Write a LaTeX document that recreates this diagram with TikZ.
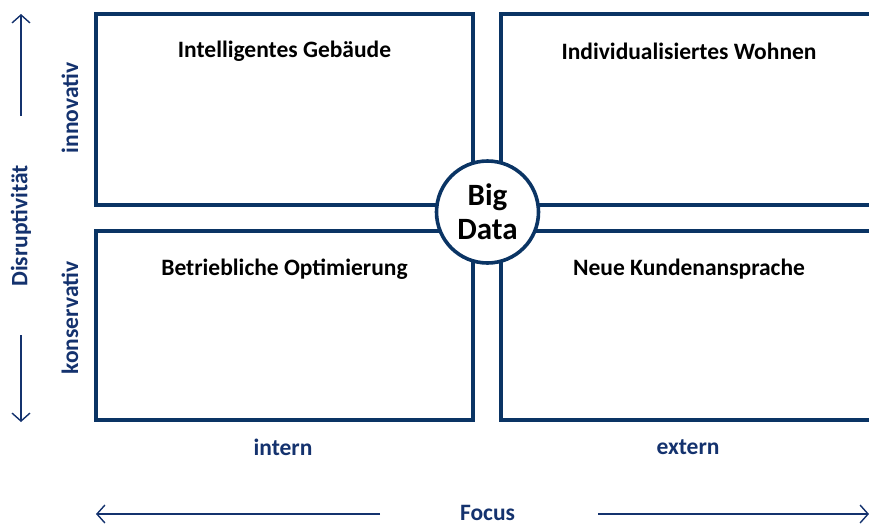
\documentclass[tikz,border=0pt]{standalone}
\usepackage{fontspec}
\setmainfont{Carlito}
\usetikzlibrary{arrows.meta}
\definecolor{navy}{RGB}{10,52,100}
\definecolor{axisblue}{RGB}{20,50,110}
\begin{document}
\begin{tikzpicture}[x=1pt,y=-1pt,
  quad/.style={draw=navy,line width=3.6pt},
  qtitle/.style={font=\bfseries\fontsize{23.5}{26}\selectfont,text=black},
  axlabel/.style={font=\bfseries\fontsize{23.5}{26}\selectfont,text=axisblue},
  axarrow/.style={draw=axisblue,line width=1.4pt,-{Straight Barb[length=8pt,width=18pt]}}]
\useasboundingbox (0,0) rectangle (869,525);
\clip (0,0) rectangle (869,525);
% quadrants
\draw[quad] (96,14) rectangle (473,205);
\draw[quad] (501,14) rectangle (900,205);
\draw[quad] (96,231) rectangle (473,420);
\draw[quad] (501,231) rectangle (900,420);
% titles
\node[qtitle] (t1) at (284.5,51) {Intelligentes Gebäude};
\node[qtitle] (t2) at (689,51) {Individualisiertes Wohnen};
\node[qtitle] (t3) at (284.5,269) {Betriebliche Optimierung};
\node[qtitle] (t4) at (689,269) {Neue Kundenansprache};
% center circle
\node[circle,draw=navy,line width=3.6pt,fill=white,minimum size=102pt,inner sep=0pt,
  align=center,font=\bfseries\fontsize{31}{34}\selectfont] (bd) at (487.5,212) {Big\\Data};
% vertical axis
\node[axlabel,rotate=90] (disr) at (21,226) {Disruptivität};
\node[axlabel,rotate=90] (inno) at (70,108) {innovativ};
\node[axlabel,rotate=90] (kons) at (70,318) {konservativ};
\coordinate (vtop) at (21,14);
\coordinate (vtopstart) at (21,116);
\coordinate (vbot) at (21,422);
\coordinate (vbotstart) at (21,335);
\draw[axarrow] (vtopstart) -- (vtop);
\draw[axarrow] (vbotstart) -- (vbot);
% horizontal axis
\node[axlabel] (intern) at (283,447) {intern};
\node[axlabel] (extern) at (688,447) {extern};
\node[axlabel,inner sep=1pt] (focus) at (487.5,513) {Focus};
\coordinate (hleft) at (96,514);
\coordinate (hleftstart) at (380,514);
\coordinate (hright) at (869,514);
\coordinate (hrightstart) at (598,514);
\draw[axarrow] (hleftstart) -- (hleft);
\draw[axarrow] (hrightstart) -- (hright);
\end{tikzpicture}
\end{document}
